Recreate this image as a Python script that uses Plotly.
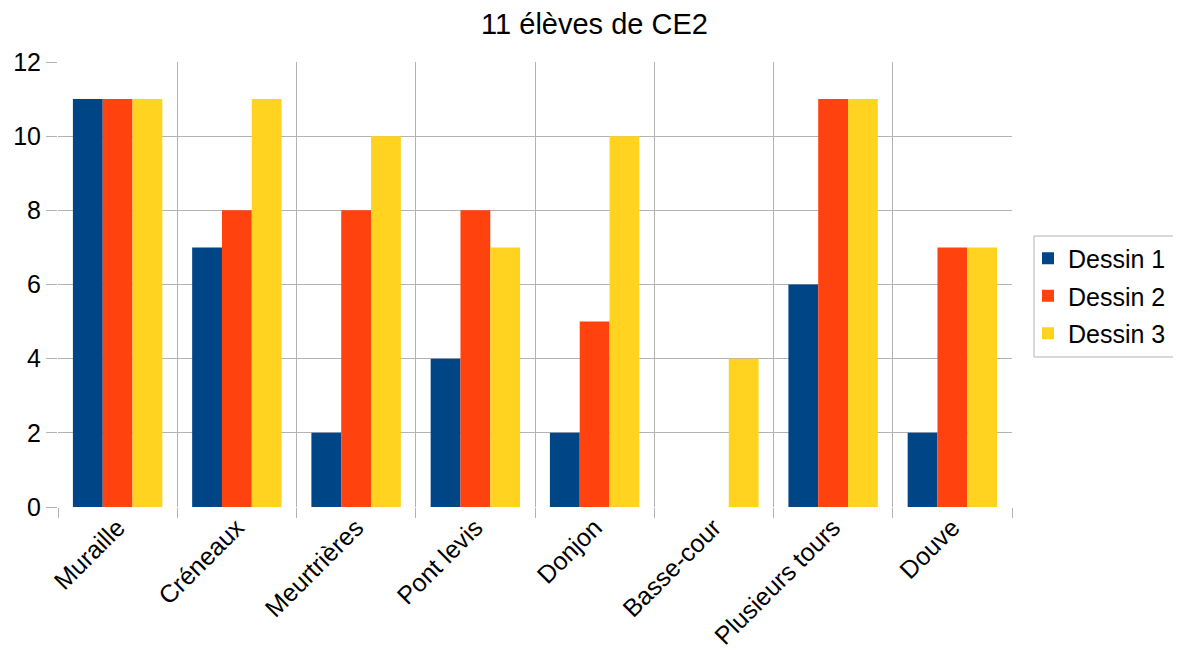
import plotly.graph_objects as go

categories = ["Muraille", "Créneaux", "Meurtrières", "Pont levis", "Donjon",
              "Basse-cour", "Plusieurs tours", "Douve"]
dessin1 = [11, 7, 2, 4, 2, 0, 6, 2]
dessin2 = [11, 8, 8, 8, 5, 0, 11, 7]
dessin3 = [11, 11, 10, 7, 10, 4, 11, 7]
series_names = ["Dessin 1", "Dessin 2", "Dessin 3"]
colors = ["#004586", "#ff420e", "#ffd320"]
y_ticks = [0, 2, 4, 6, 8, 10, 12]

pos = list(range(len(categories)))
bounds = [i - 0.5 for i in range(len(categories) + 1)]

fig = go.Figure()
for name, vals, col in zip(series_names, [dessin1, dessin2, dessin3], colors):
    fig.add_trace(go.Bar(x=pos, y=vals, name=name, marker_color=col,
                         marker_line_width=0, legendgroup=name))
# invisible trace to attach the boundary grid axis
fig.add_trace(go.Scatter(x=[bounds[0], bounds[-1]], y=[0, 0], xaxis="x2",
                         mode="lines", line=dict(width=0), showlegend=False,
                         hoverinfo="skip"))

W, H = 1173, 660
L, R, T, B = 50, 169, 54, 161
pw, ph = W - L - R, H - T - B

grid = "#b3b3b3"
fig.update_layout(
    width=W, height=H,
    paper_bgcolor="white", plot_bgcolor="white",
    font=dict(family="Liberation Sans, Arial, sans-serif", size=25, color="black"),
    title=dict(text="11 élèves de CE2", x=0.5, xanchor="center", y=1 - 16 / H,
               yanchor="middle", font=dict(size=29), automargin=False),
    margin=dict(l=L, r=R, t=T, b=B, autoexpand=False),
    barmode="group", bargap=0.25, bargroupgap=0,
    xaxis=dict(range=[bounds[0], bounds[-1]], tickmode="array", tickvals=pos,
               ticktext=categories, tickangle=-45, showgrid=False,
               zeroline=False, showline=False, ticks="", automargin=False),
    xaxis2=dict(overlaying="x", side="bottom", range=[bounds[0], bounds[-1]],
                tickmode="array", tickvals=bounds, showticklabels=False,
                showgrid=True, gridcolor=grid, gridwidth=1, ticks="outside",
                ticklen=10, tickcolor=grid, zeroline=False, showline=False,
                automargin=False),
    yaxis=dict(range=[0, 12], tickmode="array", tickvals=y_ticks,
               showgrid=True, gridcolor=grid, gridwidth=1, ticks="outside",
               ticklen=11, tickcolor=grid, zeroline=False, showline=False,
               automargin=False),
    legend=dict(xref="container", yref="container", x=1020 / W,
                xanchor="left", y=1 - 288 / H, yanchor="middle",
                bgcolor="rgba(0,0,0,0)", borderwidth=0, font=dict(size=25),
                traceorder="grouped", tracegroupgap=2, itemwidth=30),
    shapes=[dict(type="rect", xref="paper", yref="paper",
                 x0=(1026 - L) / pw, x1=(1170 - L) / pw,
                 y0=(T + ph - 349) / ph, y1=(T + ph - 228) / ph,
                 line=dict(color=grid, width=1), fillcolor="rgba(0,0,0,0)",
                 layer="below")],
)
fig.write_html("out.html")
